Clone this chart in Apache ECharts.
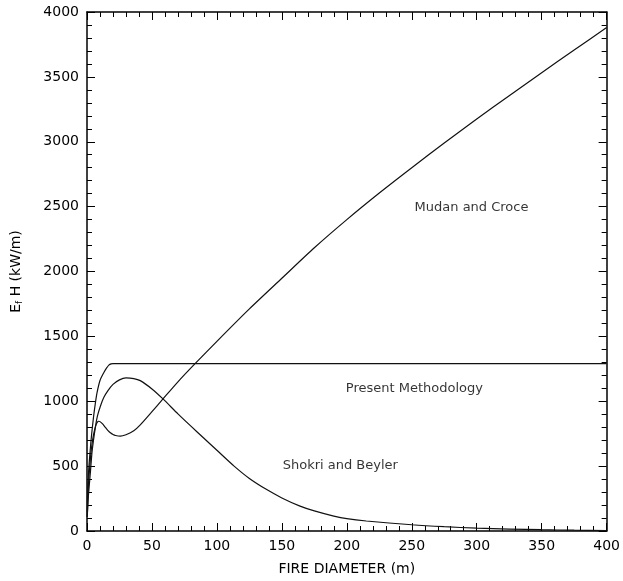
<!DOCTYPE html>
<html>
<head>
<meta charset="utf-8">
<script src="https://cdn.jsdelivr.net/npm/echarts@6/dist/echarts.min.js"></script>
<style>
  html, body { margin: 0; padding: 0; background: #fff; }
  #chart { width: 623px; height: 581px; }
</style>
</head>
<body>
<div id="chart"></div>
<script>
  // Mudan and Croce
  const mudanX = [0.2, 0.6, 1.2, 2, 3, 4, 5, 6, 7, 8, 9, 10, 12, 14, 16, 18, 20, 22, 25.6, 30, 36, 41, 49, 58.5, 70, 83, 100, 125, 150, 175, 200, 225, 250, 275, 300, 325, 350, 375, 400];
  const mudanY = [110, 220, 372, 480, 600, 680, 740, 785, 820, 840, 846, 843, 825, 800, 776, 757, 744, 736, 731, 742, 772, 818, 908, 1018, 1150, 1288, 1462, 1712, 1948, 2183, 2400, 2605, 2800, 2990, 3175, 3355, 3532, 3707, 3880];

  // Shokri and Beyler
  const shokriX = [0.2, 1, 2.6, 4, 6.4, 8, 10.3, 13, 16, 20, 25, 30, 36, 41, 50, 58.5, 70, 80, 90, 100, 113, 125, 138, 150, 164, 175, 190, 200, 215, 250, 275, 300, 325, 350, 375, 400];
  const shokriY = [110, 260, 451, 620, 797, 885, 962, 1030, 1080, 1130, 1165, 1180, 1175, 1159, 1095, 1018, 903, 808, 715, 622, 502, 405, 321, 255, 192, 155, 115, 95, 77, 48, 33, 22, 15, 10, 6, 4];

  // Present Methodology
  const presentX = [0.2, 0.5, 1, 1.5, 2.5, 3.5, 5.1, 6.5, 7.7, 10, 12.8, 15, 17, 18.5, 20, 50, 100, 200, 300, 400];
  const presentY = [150, 320, 420, 500, 628, 740, 885, 990, 1065, 1160, 1218, 1255, 1280, 1288, 1290, 1290, 1290, 1290, 1290, 1290];

  const xTicks = [0, 50, 100, 150, 200, 250, 300, 350, 400];
  const yTicks = [0, 500, 1000, 1500, 2000, 2500, 3000, 3500, 4000];

  const curveLabels = ['Mudan and Croce', 'Present Methodology', 'Shokri and Beyler'];
  const labelX = [296, 252, 195];
  const labelY = [2490, 1097, 505];

  function pairs(xs, ys) {
    return xs.map((x, i) => [x, ys[i]]);
  }

  const font = 'DejaVu Sans';
  const ink = '#000';

  function xAxisDef(pos) {
    const bottom = pos === 'bottom';
    return {
      type: 'value',
      position: pos,
      min: xTicks[0],
      max: xTicks[xTicks.length - 1],
      interval: xTicks[1] - xTicks[0],
      axisLine: { show: true, onZero: false, lineStyle: { color: ink, width: 1.5 } },
      axisTick: { show: true, inside: true, length: 8, lineStyle: { color: ink, width: 1 } },
      minorTick: { show: true, splitNumber: 5, length: 5, lineStyle: { color: ink, width: 1 } },
      axisLabel: { show: bottom, color: ink, fontSize: 14, fontFamily: font, margin: 8, formatter: (v) => String(v) },
      splitLine: { show: false },
      name: bottom ? 'FIRE DIAMETER (m)' : '',
      nameLocation: 'middle',
      nameGap: 31,
      nameTextStyle: { color: ink, fontSize: 14, fontFamily: font },
    };
  }

  function yAxisDef(pos) {
    const left = pos === 'left';
    return {
      type: 'value',
      position: pos,
      min: yTicks[0],
      max: yTicks[yTicks.length - 1],
      interval: yTicks[1] - yTicks[0],
      axisLine: { show: true, onZero: false, lineStyle: { color: ink, width: 1.5 } },
      axisTick: { show: true, inside: true, length: 8, lineStyle: { color: ink, width: 1 } },
      minorTick: { show: true, splitNumber: 5, length: 5, lineStyle: { color: ink, width: 1 } },
      axisLabel: { show: left, color: ink, fontSize: 14, fontFamily: font, margin: 8, formatter: (v) => String(v) },
      splitLine: { show: false },
      name: left ? '{n|E}{s|f}{n| H (kW/m)}' : '',
      nameLocation: 'middle',
      nameGap: 63,
      nameTextStyle: {
        color: ink,
        fontFamily: font,
        rich: {
          n: { fontSize: 14, fontFamily: font, color: ink },
          s: { fontSize: 9, fontFamily: font, color: ink, verticalAlign: 'bottom', padding: [6, 0, 0, 0] },
        },
      },
    };
  }

  function curve(name, xs, ys) {
    return {
      name: name,
      type: 'line',
      data: pairs(xs, ys),
      smooth: 0.25,
      showSymbol: false,
      symbol: 'none',
      lineStyle: { color: '#111', width: 1.2 },
      silent: true,
    };
  }

  const chart = echarts.init(document.getElementById('chart'), null, { renderer: 'canvas' });
  chart.setOption({
    animation: false,
    backgroundColor: '#fff',
    grid: { left: 87, right: 16, top: 12, bottom: 49, containLabel: false },
    xAxis: [xAxisDef('bottom'), xAxisDef('top')],
    yAxis: [yAxisDef('left'), yAxisDef('right')],
    series: [
      curve('Mudan and Croce', mudanX, mudanY),
      curve('Present Methodology', presentX, presentY),
      curve('Shokri and Beyler', shokriX, shokriY),
      {
        type: 'scatter',
        symbolSize: 0,
        silent: true,
        data: curveLabels.map((t, i) => ({ value: [labelX[i], labelY[i]], name: t })),
        label: {
          show: true,
          position: 'inside',
          formatter: (p) => p.name,
          color: ink,
          fontSize: 13,
          fontFamily: font,
        },
      },
    ],
  });
</script>
</body>
</html>
